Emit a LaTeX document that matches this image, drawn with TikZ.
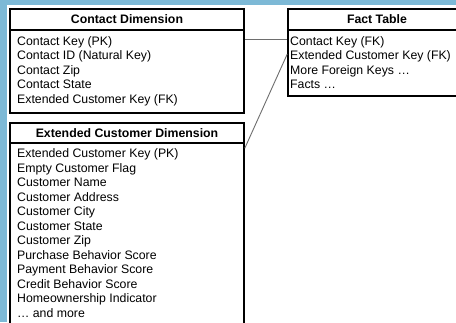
\documentclass[tikz,border=0pt]{standalone}
\usepackage{fontspec}
\setmainfont{Liberation Sans}
\usetikzlibrary{calc}
\definecolor{bgblue}{RGB}{125,185,214}
\definecolor{lnk}{RGB}{110,110,110}
\begin{document}
\begin{tikzpicture}[x=1pt,y=-1pt,
  boxline/.style={draw=black,line width=1.6pt},
  hdr/.style={boxline,fill=white,inner sep=0pt,font=\fontsize{12.3}{14.5}\selectfont\bfseries},
  bodybox/.style={boxline,inner sep=0pt},
  row/.style={anchor=base west,inner sep=0pt,font=\fontsize{12.3}{14.5}\selectfont},
  link/.style={draw=lnk,line width=0.9pt}]
\useasboundingbox (0,0) rectangle (456,322);
\clip (0,0) rectangle (456,322);
\fill[bgblue] (0,0) rectangle (456,322);
\fill[white] (7,5) rectangle (470,330);

% Contact Dimension
\node[hdr,minimum width=234pt,minimum height=21pt] (ch) at (127,19.5) {Contact Dimension};
\node[bodybox,minimum width=234pt,minimum height=83pt] (cb) at (127,71.5) {};
\foreach \t [count=\i] in {Contact Key (PK),Contact ID (Natural Key),Contact Zip,Contact State,Extended Customer Key (FK)}
  \node[row] (c\i) at (17,{45+14.5*(\i-1)}) {\t};

% Fact Table
\node[hdr,minimum width=178pt,minimum height=21pt] (fh) at (377,19.5) {Fact Table};
\node[bodybox,minimum width=178pt,minimum height=66pt] (fb) at (377,63) {};
\foreach \t [count=\i] in {Contact Key (FK),Extended Customer Key (FK),More Foreign Keys \dots,Facts \dots}
  \node[row] (f\i) at (290,{45+14.5*(\i-1)}) {\t};

% Extended Customer Dimension
\node[hdr,minimum width=234pt,minimum height=20pt] (eh) at (127,133) {Extended Customer Dimension};
\node[bodybox,minimum width=234pt,minimum height=197pt] (eb) at (127,241.5) {};
\foreach \t [count=\i] in {Extended Customer Key (PK),Empty Customer Flag,Customer Name,Customer Address,Customer City,Customer State,Customer Zip,Purchase Behavior Score,Payment Behavior Score,Credit Behavior Score,Homeownership Indicator,\dots\ and more}
  \node[row] (e\i) at (17,{157.7+14.5*(\i-1)}) {\t};

% connectors
\draw[link] ($(cb.north east)+(0,10)$) -- ($(fb.north west)+(0,10)$);
\draw[link] ($(eb.north east)+(0,6)$) -- ($(fb.north west)+(0,25)$);
\end{tikzpicture}
\end{document}
